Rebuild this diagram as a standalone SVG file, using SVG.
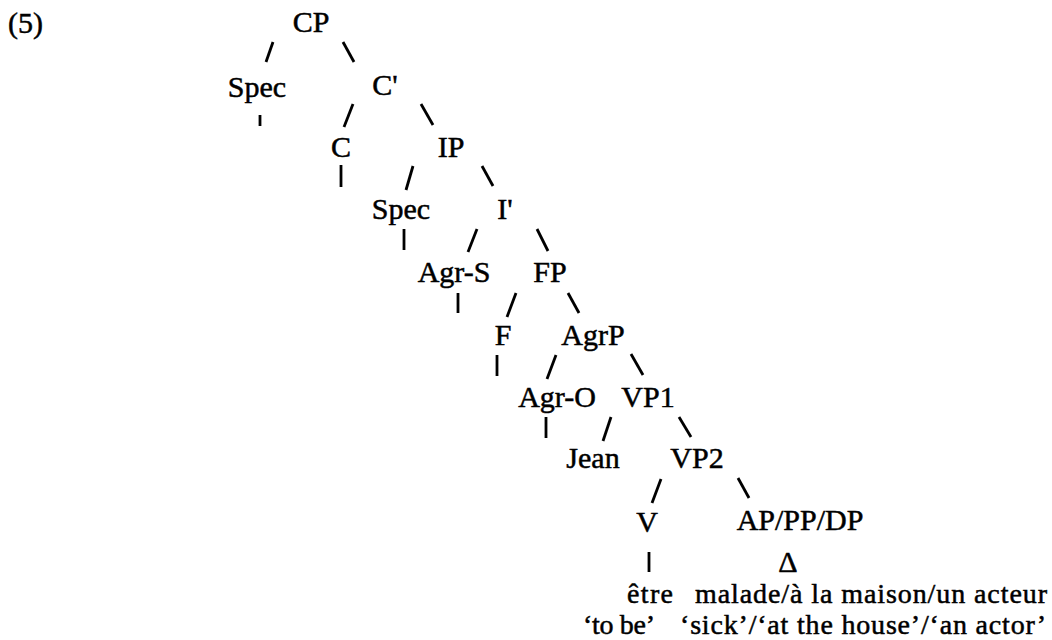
<svg xmlns="http://www.w3.org/2000/svg" width="1052" height="640" viewBox="0 0 1052 640">
<style>
text{font-family:"Liberation Serif","Times New Roman",serif;font-size:30px;fill:#000;stroke:#000;stroke-width:0.5}
.n text{text-anchor:middle}
.n text.s{font-size:28px}
.e line{stroke:#000;stroke-width:2.8;stroke-linecap:butt}
</style>
<rect width="1052" height="640" fill="#fff"/>
<text x="8" y="33">(5)</text>
<g class="e" id="connectors">
<line x1="273" y1="42" x2="266" y2="62"/>
<line x1="343" y1="42" x2="354" y2="62"/>
<line x1="260" y1="115" x2="260" y2="126"/>
<line x1="353" y1="104" x2="344" y2="127"/>
<line x1="421" y1="104" x2="433" y2="125"/>
<line x1="341" y1="165" x2="341" y2="187"/>
<line x1="413" y1="166" x2="406" y2="190"/>
<line x1="482" y1="166" x2="493" y2="186"/>
<line x1="404" y1="229" x2="404" y2="250"/>
<line x1="477" y1="229" x2="468" y2="252"/>
<line x1="537" y1="229" x2="548" y2="251"/>
<line x1="458" y1="293" x2="458" y2="313"/>
<line x1="516" y1="293" x2="507" y2="317"/>
<line x1="568" y1="293" x2="579" y2="313"/>
<line x1="497" y1="355" x2="497" y2="376"/>
<line x1="556" y1="355" x2="547" y2="379"/>
<line x1="631" y1="354" x2="643" y2="375"/>
<line x1="546" y1="417" x2="546" y2="438"/>
<line x1="611" y1="417" x2="603" y2="441"/>
<line x1="679" y1="417" x2="691" y2="437"/>
<line x1="661" y1="479" x2="652" y2="503"/>
<line x1="738" y1="478" x2="749" y2="498"/>
<line x1="649" y1="552" x2="649" y2="572"/>
</g>
<g class="n">
<g id="CP"><text x="311" y="32">CP</text></g>
<g id="Spec1"><text x="257" y="97">Spec</text></g>
<g id="Cbar"><text x="385" y="95">C'</text></g>
<g id="C"><text x="341" y="157">C</text></g>
<g id="IP"><text x="451" y="157">IP</text></g>
<g id="Spec2"><text x="401" y="219">Spec</text></g>
<g id="Ibar"><text x="505" y="219">I'</text></g>
<g id="AgrS"><text x="454" y="282">Agr-S</text></g>
<g id="FP"><text x="550" y="282">FP</text></g>
<g id="F"><text x="503" y="345">F</text></g>
<g id="AgrP"><text x="593" y="345">AgrP</text></g>
<g id="AgrO"><text x="557" y="407">Agr-O</text></g>
<g id="VP1"><text x="648" y="407">VP1</text></g>
<g id="Jean"><text x="593" y="468">Jean</text></g>
<g id="VP2"><text x="697" y="468">VP2</text></g>
<g id="V"><text x="647" y="532">V</text></g>
<g id="APPPDP"><text x="800" y="530">AP/PP/DP</text></g>
<g id="Delta"><text x="788" y="572">Δ</text></g>
<g id="etre">
<text class="s" x="650" y="603" textLength="46" lengthAdjust="spacing">être</text>
<text class="s" x="619" y="634" textLength="72" lengthAdjust="spacing">‘to be’</text>
</g>
<g id="malade">
<text class="s" x="871" y="603" textLength="352" lengthAdjust="spacing">malade/à la maison/un acteur</text>
<text class="s" x="863" y="634" textLength="366" lengthAdjust="spacing">‘sick’/‘at the house’/‘an actor’</text>
</g>
</g>
</svg>
